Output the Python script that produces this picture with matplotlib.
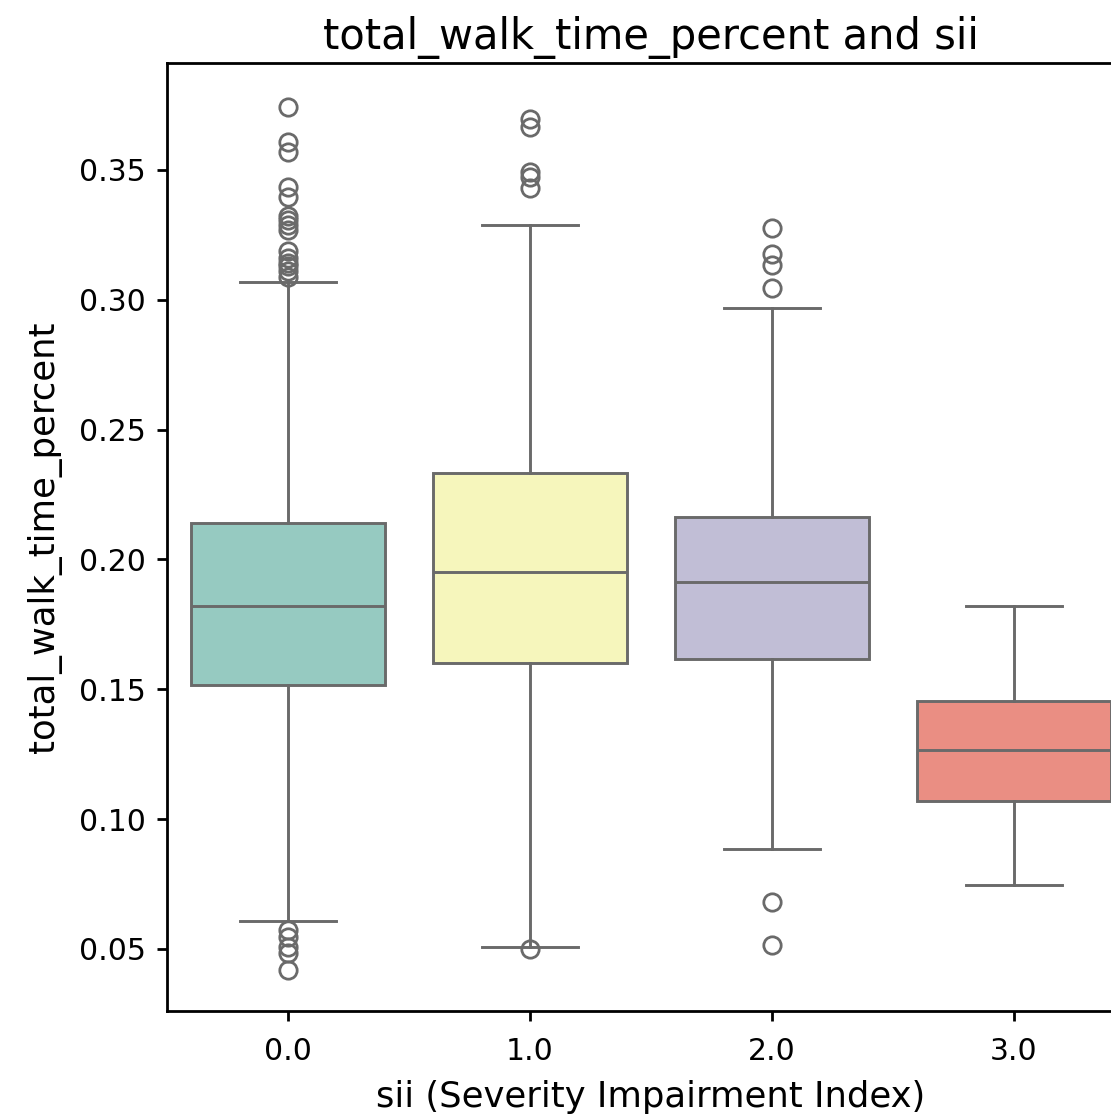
import matplotlib
matplotlib.use("Agg")
import matplotlib.pyplot as plt
import seaborn as sns

categories = ["0.0", "1.0", "2.0", "3.0"]
q1 = [0.1517, 0.1601, 0.1617, 0.1070]
median = [0.1821, 0.1952, 0.1913, 0.1267]
q3 = [0.2141, 0.2333, 0.2164, 0.1456]
whislo = [0.0608, 0.0508, 0.0885, 0.0747]
whishi = [0.3069, 0.3288, 0.2969, 0.1821]
fliers = [
    [0.3743, 0.3608, 0.3569, 0.3435, 0.3396, 0.3322, 0.3307, 0.3288, 0.3269,
     0.3188, 0.3161, 0.3142, 0.3130, 0.3111, 0.3088,
     0.0573, 0.0546, 0.0508, 0.0485, 0.0419],
    [0.3696, 0.3665, 0.3492, 0.3473, 0.3431, 0.0500],
    [0.3275, 0.3177, 0.3134, 0.3044, 0.0682, 0.0515],
    [],
]
palette = ["#8dd3c7", "#ffffb3", "#bebada", "#fb8072"]

fig = plt.figure(figsize=(11.11, 11.15), dpi=100)
ax = fig.add_axes([167/1111, 1-1011/1115, (1135-167)/1111, (1011-63)/1115])

stats = []
for i in range(len(categories)):
    stats.append(dict(med=median[i], q1=q1[i], q3=q3[i], whislo=whislo[i],
                      whishi=whishi[i], fliers=fliers[i], label=categories[i]))

lc = "#6a6a6a"
lw = 2.1
bp = ax.bxp(stats, positions=range(len(categories)), widths=0.8, patch_artist=True,
            boxprops=dict(edgecolor=lc, linewidth=lw),
            medianprops=dict(color=lc, linewidth=lw),
            whiskerprops=dict(color=lc, linewidth=lw),
            capprops=dict(color=lc, linewidth=lw),
            flierprops=dict(marker="o", markerfacecolor="none", markeredgecolor=lc,
                            markersize=12.5, markeredgewidth=2.0),
            capwidths=0.4)
for patch, c in zip(bp["boxes"], palette):
    patch.set_facecolor(sns.desaturate(c, 0.75))

ax.set_xlim(-0.5, 3.5)
ax.set_ylim(0.0261, 0.3912)
ax.set_yticks([0.05, 0.10, 0.15, 0.20, 0.25, 0.30, 0.35])
ax.set_yticklabels(["0.05", "0.10", "0.15", "0.20", "0.25", "0.30", "0.35"])
ax.set_xticks(range(len(categories)))
ax.set_xticklabels(categories)
ax.tick_params(labelsize=21.5, width=2, length=7, colors="black", pad=8)
ax.tick_params(axis="x", pad=12)
for s in ax.spines.values():
    s.set_linewidth(2)
ax.set_title("total_walk_time_percent and sii", fontsize=30, pad=10)
ax.set_xlabel("sii (Severity Impairment Index)", fontsize=25.5, labelpad=10)
ax.set_ylabel("total_walk_time_percent", fontsize=25.5, labelpad=12)

fig.savefig("out.png", dpi=100)
